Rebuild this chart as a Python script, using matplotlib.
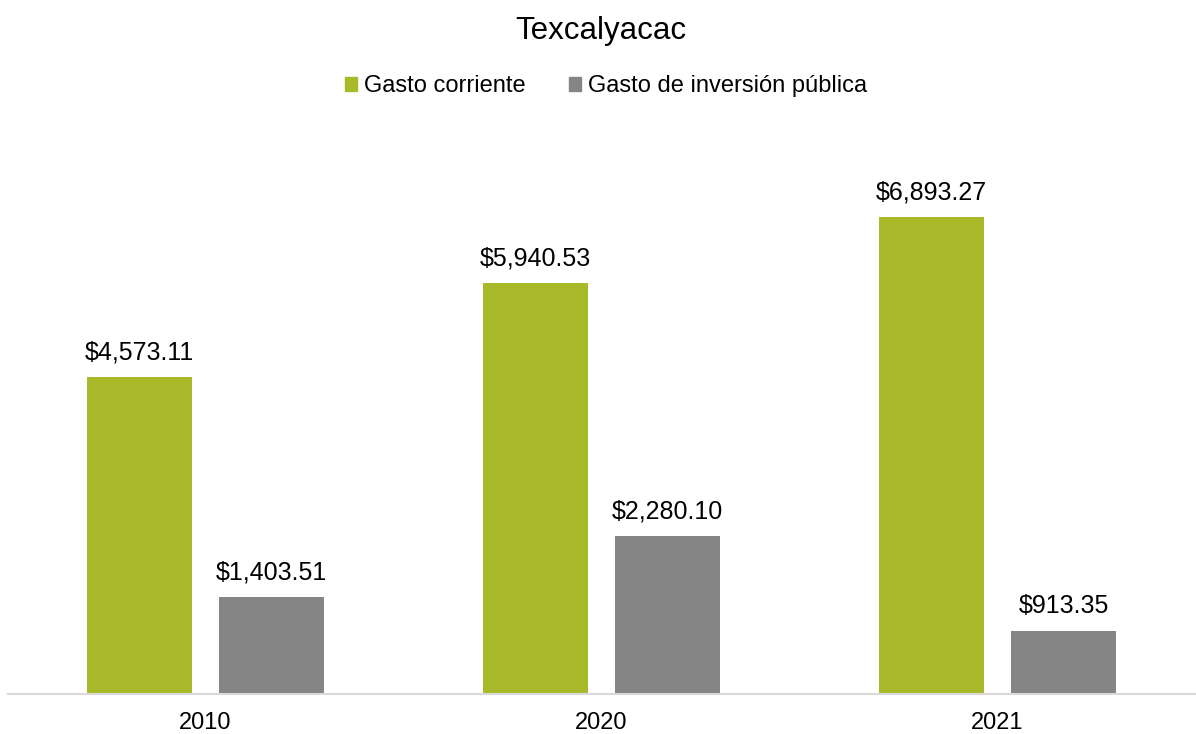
import matplotlib
matplotlib.use("Agg")
import matplotlib.pyplot as plt
import numpy as np
from matplotlib.patches import Patch

plt.rcParams['font.family'] = ['Liberation Sans', 'DejaVu Sans']

years = ["2010", "2020", "2021"]
gasto_corriente = [4573.11, 5940.53, 6893.27]
gasto_inversion = [1403.51, 2280.10, 913.35]
series_names = ["Gasto corriente", "Gasto de inversión pública"]
colors = ["#A8B92A", "#858585"]

fig = plt.figure(figsize=(11.96, 7.34), dpi=100)
ax = fig.add_axes([7.5/1196, 40/734, 1188/1196, (694-140)/734])

x = np.arange(len(years))
w = 0.265
off = 0.1667
b1 = ax.bar(x - off, gasto_corriente, w, color=colors[0])
b2 = ax.bar(x + off, gasto_inversion, w, color=colors[1])

for bars in (b1, b2):
    for r in bars:
        ax.annotate(f"${r.get_height():,.2f}", (r.get_x() + r.get_width()/2, r.get_height()),
                    xytext=(0, 9), textcoords="offset points", ha="center", va="bottom",
                    fontsize=18, color="#000000")

ax.set_xlim(-0.5, 2.5)
ax.set_ylim(0, 8000)
ax.set_xticks(x)
ax.set_xticklabels(years, fontsize=17)
ax.tick_params(axis='x', length=0, pad=13)
ax.set_yticks([])
for s in ["top", "right", "left"]:
    ax.spines[s].set_visible(False)
ax.spines["bottom"].set_color("#D9D9D9")
ax.spines["bottom"].set_linewidth(1.5)

fig.text(601/1196, 1 - 31/734, "Texcalyacac", ha="center", va="center", fontsize=22.5)
handles = [Patch(color=c) for c in colors]
fig.legend(handles, series_names, loc="center", bbox_to_anchor=(606/1196, 1 - 86/734), ncol=2,
           frameon=False, fontsize=17, handlelength=0.52, handleheight=0.52,
           handletextpad=0.3, columnspacing=1.8, borderpad=0, borderaxespad=0)

fig.savefig("out.png", dpi=100)
